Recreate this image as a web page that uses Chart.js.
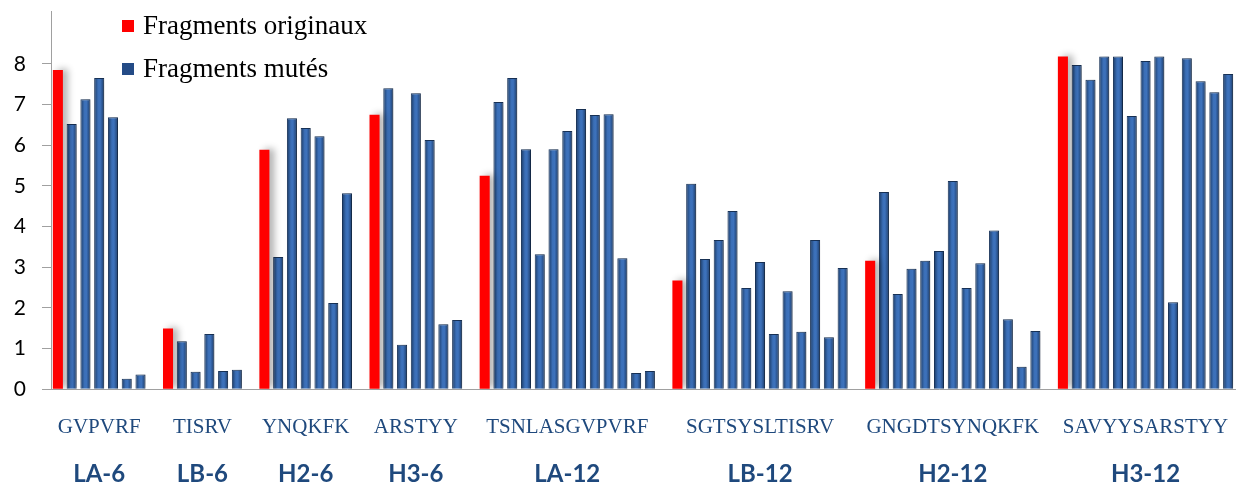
<!DOCTYPE html>
<html>
<head>
<meta charset="utf-8">
<script src="https://cdn.jsdelivr.net/npm/chart.js@4.4.0/dist/chart.umd.min.js"></script>
<style>
  body { margin: 0; background: #fff; }
</style>
</head>
<body>
<canvas id="grafico" width="1239" height="484"></canvas>
<script>
// groupes et sequences (axe x)
const groupes = ["LA-6", "LB-6", "H2-6", "H3-6", "LA-12", "LB-12", "H2-12", "H3-12"];
const sequences = ["GVPVRF", "TISRV", "YNQKFK", "ARSTYY", "TSNLASGVPVRF", "SGTSYSLTISRV", "GNGDTSYNQKFK", "SAVYYSARSTYY"];
const yTicks = [0, 1, 2, 3, 4, 5, 6, 7, 8];

// une valeur par groupe (barre rouge)
const originaux = [7.85, 1.49, 5.89, 6.75, 5.25, 2.67, 3.16, 8.18];

// barres bleues de chaque groupe
const mutesLA6 = [6.52, 7.13, 7.65, 6.69, 0.26, 0.36];
const mutesLB6 = [1.18, 0.43, 1.36, 0.45, 0.48];
const mutesH26 = [3.25, 6.66, 6.42, 6.22, 2.12, 4.82];
const mutesH36 = [7.40, 1.09, 7.28, 6.13, 1.60, 1.70];
const mutesLA12 = [7.06, 7.65, 5.90, 3.32, 5.90, 6.35, 6.89, 6.74, 6.76, 3.22, 0.40, 0.45];
const mutesLB12 = [5.05, 3.20, 3.67, 4.38, 2.49, 3.13, 1.36, 2.41, 1.41, 3.67, 1.28, 2.98];
const mutesH212 = [4.85, 2.34, 2.96, 3.16, 3.40, 5.12, 2.49, 3.10, 3.90, 1.72, 0.55, 1.43];
const mutesH312 = [7.97, 7.61, 8.18, 8.18, 6.72, 8.07, 8.18, 2.14, 8.14, 7.57, 7.30, 7.75];

const mutes = [mutesLA6, mutesLB6, mutesH26, mutesH36, mutesLA12, mutesLB12, mutesH212, mutesH312];

// une case par barre, une case vide entre les groupes
const dataRouge = [];
const dataBleu = [];
const centres = [];
mutes.forEach((liste, g) => {
  if (g > 0) { dataRouge.push(null); dataBleu.push(null); }
  const debut = dataRouge.length;
  dataRouge.push(originaux[g]);
  dataBleu.push(null);
  liste.forEach((v) => { dataRouge.push(null); dataBleu.push(v); });
  centres.push(debut + liste.length / 2);
});
const cases = dataRouge.map((_, i) => String(i));

const remplissageBleu = (ctx) => {
  const chart = ctx.chart;
  const x = chart.scales.x;
  if (!chart.chartArea || !x) return "#2c5a9c";
  const cx = x.getPixelForValue(ctx.dataIndex);
  const w = (x.width / cases.length) * 0.73;
  const grad = chart.ctx.createLinearGradient(cx - w / 2, 0, cx + w / 2, 0);
  grad.addColorStop(0, "#1a3963");
  grad.addColorStop(0.4, "#3b6fb7");
  grad.addColorStop(0.6, "#3d72bc");
  grad.addColorStop(1, "#1c3b68");
  return grad;
};

const ombre = {
  id: "ombre",
  beforeDatasetsDraw(chart) {
    const c = chart.ctx;
    c.save();
    c.shadowColor = "rgba(0,0,0,0.3)";
    c.shadowBlur = 7;
    c.shadowOffsetX = 5;
    c.shadowOffsetY = -1;
  },
  afterDatasetsDraw(chart) {
    chart.ctx.restore();
  },
};

// legende dans la zone du graphique, en haut a gauche
const legendeInterne = {
  id: "legendeInterne",
  afterDraw(chart) {
    const c = chart.ctx;
    const a = chart.chartArea;
    const couleurs = ["#ff0000", "#244b86"];
    c.save();
    chart.data.datasets.forEach((ds, i) => {
      const y = a.top + 15 + i * 43;
      c.fillStyle = couleurs[i];
      c.fillRect(a.left + 71, y - 6, 12, 12);
      c.fillStyle = "#000";
      c.font = "27px 'Liberation Serif'";
      c.textBaseline = "middle";
      c.fillText(ds.label, a.left + 92, y + 1);
    });
    c.restore();
  },
};

// axes lineaires sous le graphique, un tick au centre de chaque groupe
const axeGroupes = (poids, hauteur, textes, police, pad) => ({
  type: "linear",
  axis: "x",
  position: "bottom",
  weight: poids,
  offset: false,
  bounds: "data",
  min: -0.5,
  max: cases.length - 0.5,
  afterBuildTicks: (s) => { s.ticks = centres.map((v) => ({ value: v })); },
  afterFit: (s) => {
    s.height = hauteur;
    s.paddingLeft = 0;
    s.paddingRight = 0;
  },
  ticks: {
    autoSkip: false, maxRotation: 0, minRotation: 0, padding: pad,
    font: police, color: "#1f497d",
    callback: (v, i) => textes[i],
  },
  grid: { display: false, drawTicks: false },
  border: { display: false },
});

new Chart(document.getElementById("grafico"), {
  type: "bar",
  data: {
    labels: cases,
    datasets: [
      {
        label: "Fragments originaux",
        data: dataRouge,
        backgroundColor: "#ff0000",
        grouped: false,
        barPercentage: 0.73,
        categoryPercentage: 1,
      },
      {
        label: "Fragments mutés",
        data: dataBleu,
        backgroundColor: remplissageBleu,
        borderColor: "#19345a",
        borderWidth: 1,
        grouped: false,
        barPercentage: 0.73,
        categoryPercentage: 1,
      },
    ],
  },
  options: {
    responsive: false,
    animation: false,
    layout: { padding: { top: 11, right: 4, left: 0, bottom: 0 } },
    plugins: { legend: { display: false }, tooltip: { enabled: false } },
    scales: {
      y: {
        min: 0,
        max: 9.3,
        afterBuildTicks: (s) => { s.ticks = yTicks.map((v) => ({ value: v })); },
        afterFit: (s) => {
          s.width = 51;
          s.paddingTop = 0;
          s.paddingBottom = 0;
        },
        ticks: { font: { family: "Lato", size: 21 }, color: "#000", padding: 16 },
        grid: { drawOnChartArea: false, drawTicks: true, tickLength: 9, color: "#a0a0a0" },
        border: { color: "#a0a0a0", width: 1 },
      },
      x: {
        offset: true,
        weight: 0,
        ticks: { display: false },
        grid: { display: false, drawTicks: false },
        border: { color: "#a0a0a0", width: 1 },
        afterFit: (s) => {
          s.height = 0;
          s.paddingLeft = 0;
          s.paddingRight = 0;
        },
      },
      seq: axeGroupes(1, 48, sequences, { family: "Liberation Serif", size: 21 }, 26),
      grp: axeGroupes(2, 46.8, groupes, { family: "Lato", size: 24, weight: "bold" }, 23),
    },
  },
  plugins: [ombre, legendeInterne],
});
</script>
</body>
</html>
